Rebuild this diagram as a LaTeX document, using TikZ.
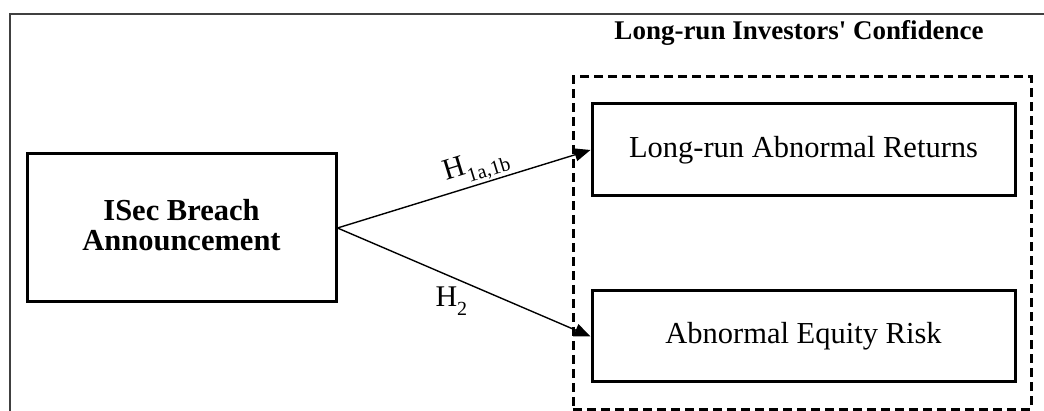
\documentclass[tikz,border=0pt]{standalone}
\usepackage{fontspec}
\setmainfont{Liberation Serif}[Ligatures=TeXOff]
\usetikzlibrary{arrows.meta}
\newcommand\hsub[1]{\raisebox{-9pt}{\fontsize{20}{20}\selectfont #1}}
\tikzset{
  box/.style={draw, line width=3pt, inner sep=0pt, align=center, font=\fontsize{30.5}{30}\selectfont},
  groupbox/.style={draw, line width=3pt, dash pattern=on 9pt off 5pt, inner sep=0pt},
  link/.style={line width=1.4pt, -{Triangle[length=16pt,width=13pt]}},
  hlabel/.style={font=\fontsize{30}{30}\selectfont, inner sep=1pt},
  frame/.style={line width=2pt, draw=black!75}
}
\begin{document}
\begin{tikzpicture}[x=1pt,y=-1pt]
\useasboundingbox (0,0) rectangle (1044,411);
\draw[frame] (10,420) -- (10,14) -- (1050,14);
\node[groupbox, minimum width=458pt, minimum height=332pt] (G) at (802,243) {};
\node[font=\bfseries\fontsize{27}{27}\selectfont] (T) at (799,33) {Long-run Investors' Confidence};
\node[box, font=\bfseries\fontsize{30.5}{30}\selectfont, minimum width=309pt, minimum height=148pt] (L) at (181.5,228) {ISec Breach\\Announcement\rule[-6pt]{0pt}{1pt}};
\node[box, minimum width=423pt, minimum height=92pt] (A) at (803.5,150) {Long-run Abnormal Returns};
\node[box, minimum width=423pt, minimum height=91pt] (B) at (803.5,336.5) {Abnormal Equity Risk};
\draw[link] (L.east) -- node[hlabel, sloped, above, pos=0.57] {H\hsub{1a,1b}} (A.west);
\draw[link] (L.east) -- node[hlabel, below=8pt, pos=0.45] {H\hsub{2}} (B.west);
\end{tikzpicture}
\end{document}
